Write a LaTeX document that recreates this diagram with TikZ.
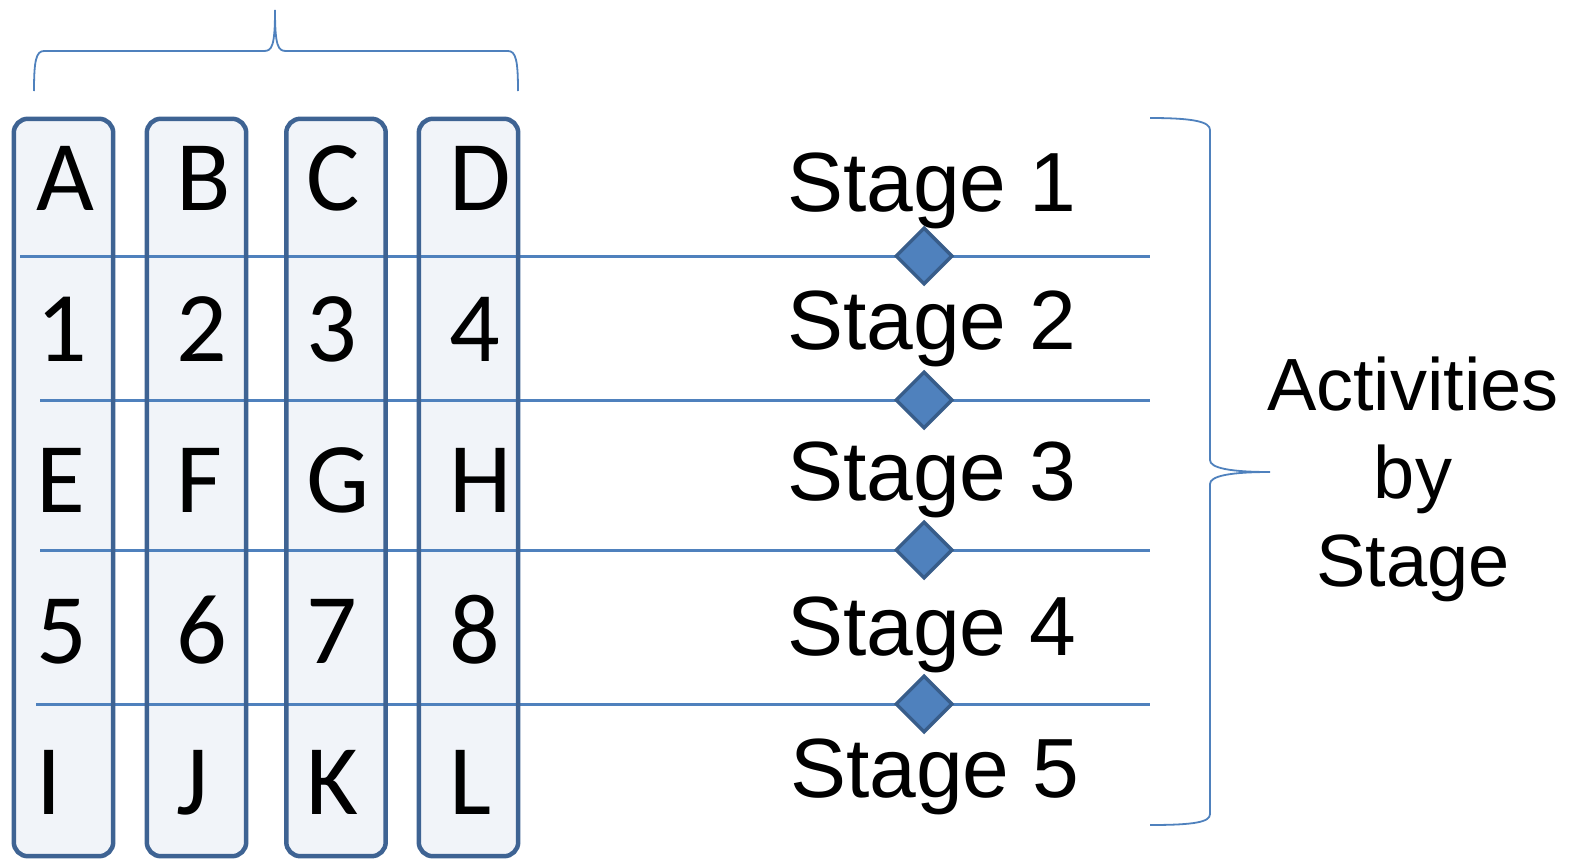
\documentclass[tikz,border=0pt]{standalone}
\usepackage{fontspec}
\setmainfont{Liberation Sans}
\newfontfamily\cellfont{Carlito}
\usepackage{tikz}
\usetikzlibrary{matrix,shapes.geometric}

\definecolor{linkblue}{HTML}{4F81BD}
\definecolor{edgeblue}{HTML}{385D8A}
\definecolor{boxblue}{HTML}{3E6393}
\definecolor{boxfill}{HTML}{F1F4F9}

\begin{document}
\begin{tikzpicture}[x=1pt, y=-1pt,
    colbox/.style     = {fill=boxfill, minimum height=737pt, inner sep=0pt, rounded corners=14pt},
    boxline/.style    = {draw=boxblue, line width=4.5pt, rounded corners=14pt},
    stageline/.style  = {draw=linkblue, line width=3pt},
    milestone/.style  = {diamond, fill=linkblue, draw=edgeblue, line width=3.5pt, minimum width=57pt, minimum height=57pt, inner sep=0pt},
    stagelabel/.style = {anchor=base west, font=\fontsize{84}{100}\selectfont, inner sep=0pt},
    bracket/.style    = {draw=linkblue, line width=1.8pt}
  ]
  \useasboundingbox (0,0) rectangle (1574,862);

  % columns
  \node [colbox, minimum width=99pt] (colA) at (63.5,487.5)  {};
  \node [colbox, minimum width=99pt] (colB) at (196.5,487.5) {};
  \node [colbox, minimum width=99pt] (colC) at (336,487.5)   {};
  \node [colbox, minimum width=99pt] (colD) at (468.5,487.5) {};

  % stage boundaries
  \coordinate (w1) at (20,256);  \coordinate (e1) at (1150,256);
  \coordinate (w2) at (40,400);  \coordinate (e2) at (1150,400);
  \coordinate (w3) at (40,550);  \coordinate (e3) at (1150,550);
  \coordinate (w4) at (36,704);  \coordinate (e4) at (1150,704);
  \foreach \i in {1,...,4} {
    \draw [stageline] (w\i) -- (e\i);
  }
  \foreach \c in {A,B,C,D} {
    \draw [boxline] (col\c.north west) rectangle (col\c.south east);
  }
  \node [milestone] (ms1) at (924,256) {};
  \node [milestone] (ms2) at (924,400) {};
  \node [milestone] (ms3) at (924,550) {};
  \node [milestone] (ms4) at (924,704) {};

  \matrix (m)
    [
      matrix of nodes,
      matrix anchor = m-1-1.center,
      nodes = {font=\cellfont\fontsize{100}{110}\selectfont, text height=65pt, text depth=0pt, text width=70pt, align=left, inner sep=0pt},
      row sep    = 86pt,
      column sep = 60pt
    ] at (72,178)
    {
      A &[10pt] B & C &[13pt] D \\
      1 & 2 & 3 & 4 \\
      E & F & G & H \\
      5 & 6 & 7 & 8 \\
      I & J & K & L \\
    };

  \node [stagelabel] (s1) at (787,211) {Stage 1};
  \node [stagelabel] (s2) at (787,349) {Stage 2};
  \node [stagelabel] (s3) at (787,500) {Stage 3};
  \node [stagelabel] (s4) at (787,655) {Stage 4};
  \node [stagelabel] (s5) at (790,797) {Stage 5};

  % braces
  \draw [bracket] (34,91) .. controls (34,61) and (36,51) .. (44,51) -- (264,51)
    .. controls (272,51) and (275,46) .. (275,10)
    .. controls (275,46) and (278,51) .. (286,51) -- (508,51)
    .. controls (516,51) and (518,61) .. (518,91);
  \draw [bracket] (1150,118) .. controls (1195,118) and (1210,122) .. (1210,130) -- (1210,460)
    .. controls (1210,468) and (1230,472) .. (1270,472)
    .. controls (1230,472) and (1210,476) .. (1210,484) -- (1210,814)
    .. controls (1210,822) and (1195,825) .. (1150,825);

  \node [align=center, font=\fontsize{74}{88}\selectfont, inner sep=0pt] (act) at (1413,479) {Activities\\by\\Stage};
\end{tikzpicture}
\end{document}
